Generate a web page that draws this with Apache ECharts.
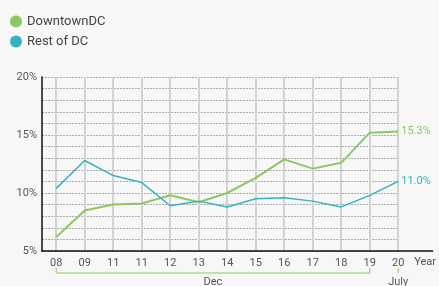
<!DOCTYPE html>
<html>
<head>
<meta charset="utf-8">
<script src="https://cdn.jsdelivr.net/npm/echarts@6/dist/echarts.min.js"></script>
<style>
  html, body { margin: 0; padding: 0; background: #f7f7f7; }
  #chart { width: 439px; height: 286px; }
</style>
</head>
<body>
<div id="chart"></div>
<script>
// 数据
var xLabels = ['08', '09', '11', '11', '12', '13', '14', '15', '16', '17', '18', '19', '20'];
var downtownDC = [6.2, 8.5, 9.0, 9.1, 9.8, 9.2, 10.0, 11.3, 12.9, 12.1, 12.6, 15.2, 15.3];
var restOfDC = [10.4, 12.8, 11.5, 10.9, 8.9, 9.3, 8.8, 9.5, 9.6, 9.3, 8.8, 9.8, 11.0];
var seriesNames = ['DowntownDC', 'Rest of DC'];
var periodLabels = ['Dec', 'July'];

var green = '#8dc763';
var blue = '#35b3c1';
var font = 'Roboto';

function toPairs(arr) {
    var out = [];
    for (var i = 0; i < arr.length; i++) {
        out.push([i, arr[i]]);
    }
    return out;
}
var xIdx = xLabels.map(function (l, i) { return i; });

var chart = echarts.init(document.getElementById('chart'));

function lineSeries(name, data, color, width) {
    return {
        name: name,
        type: 'line',
        data: toPairs(data),
        symbol: 'none',
        lineStyle: { color: color, width: width },
        itemStyle: { color: color },
        endLabel: {
            show: true,
            color: color,
            fontFamily: font,
            fontSize: 11,
            distance: 3,
            formatter: function (p) { return p.value[1].toFixed(1) + '%'; }
        }
    };
}

chart.setOption({
    backgroundColor: '#f7f7f7',
    animation: false,
    textStyle: { fontFamily: font },
    legend: {
        orient: 'vertical',
        left: 5,
        top: 10,
        itemGap: 7,
        icon: 'circle',
        itemWidth: 12,
        itemHeight: 12,
        textStyle: { color: '#444', fontSize: 13, fontFamily: font },
        data: seriesNames
    },
    grid: { left: 42, right: 35, top: 77, bottom: 35, containLabel: false },
    xAxis: {
        type: 'value',
        min: -0.5,
        max: 12,
        name: 'Year',
        nameLocation: 'end',
        nameGap: 16,
        nameTextStyle: { color: '#555', fontSize: 11, fontFamily: font, verticalAlign: 'top', padding: [6, 0, 0, 0] },
        axisLine: { onZero: false, lineStyle: { color: '#111', width: 1.5 } },
        axisTick: { show: false, customValues: xIdx },
        axisLabel: {
            customValues: xIdx,
            color: '#555',
            fontSize: 11,
            margin: 7,
            formatter: function (v) { return xLabels[Math.round(v)]; }
        },
        splitLine: { show: true, lineStyle: { color: '#d2d2d2', width: 2 } }
    },
    yAxis: {
        type: 'value',
        min: 5,
        max: 20,
        interval: 1,
        axisLine: { show: true, onZero: false, lineStyle: { color: '#111', width: 1.5 } },
        axisTick: { show: false },
        axisLabel: {
            color: '#555',
            fontSize: 11,
            margin: 5,
            formatter: function (v) { return v % 5 === 0 ? v + '%' : ''; }
        },
        splitLine: { show: true, lineStyle: { color: '#ababab', type: [2, 1], width: 1 } }
    },
    series: [
        lineSeries(seriesNames[0], downtownDC, green, 2),
        lineSeries(seriesNames[1], restOfDC, blue, 1.5)
    ]
});

// 月份括号
var p0 = chart.convertToPixel({ gridIndex: 0 }, [0, 5]);
var p11 = chart.convertToPixel({ gridIndex: 0 }, [11, 5]);
var p12 = chart.convertToPixel({ gridIndex: 0 }, [12, 5]);
var by = p0[1] + 22;
chart.setOption({
    graphic: [
        { type: 'line', shape: { x1: p12[0], y1: p12[1], x2: p12[0] + 35, y2: p12[1] }, style: { stroke: '#111', lineWidth: 1.5 } },
        { type: 'polyline', shape: { points: [[p0[0], by - 5], [p0[0], by], [p11[0], by], [p11[0], by - 5]] }, style: { stroke: green, lineWidth: 1, fill: null } },
        { type: 'line', shape: { x1: p12[0], y1: by - 5, x2: p12[0], y2: by }, style: { stroke: green, lineWidth: 1 } },
        { type: 'text', x: (p0[0] + p11[0]) / 2, y: by + 4, style: { text: periodLabels[0], fill: '#555', fontSize: 11, fontFamily: font, align: 'center' } },
        { type: 'text', x: p12[0], y: by + 4, style: { text: periodLabels[1], fill: '#555', fontSize: 11, fontFamily: font, align: 'center' } }
    ]
});
</script>
</body>
</html>
